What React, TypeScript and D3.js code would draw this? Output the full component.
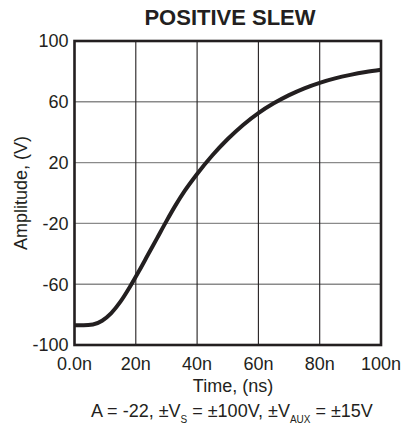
import { useEffect, useRef } from 'react';
import * as d3 from 'd3';

const timeNs = [0, 3, 6, 9, 12, 15, 18, 21, 24, 27, 30, 33, 36, 40, 45, 50, 55, 60, 65, 70, 75, 80, 85, 90, 95, 100];
const amplitudeV = [-87, -87, -86.5, -84, -79, -71.5, -62, -51.5, -40.5, -29.5, -18.5, -8, 1.5, 12.5, 24.8, 35.5, 44.8, 52.6, 59, 64.4, 68.9, 72.5, 75.4, 77.7, 79.6, 81.1];

const xTicks = [0, 20, 40, 60, 80, 100];
const xTickLabels = ['0.0n', '20n', '40n', '60n', '80n', '100n'];
const yTicks = [-100, -60, -20, 20, 60, 100];

const title = 'POSITIVE SLEW';
const xTitle = 'Time, (ns)';
const yTitle = 'Amplitude, (V)';

export default function App() {
  const svgRef = useRef<SVGSVGElement | null>(null);

  useEffect(() => {
    const svg = svgRef.current;
    if (!svg) return;

    const width = 401;
    const height = 427;
    const margin = { top: 41, right: 20, bottom: 82, left: 74.5 };
    const ink = '#231f20';
    const font = '"Liberation Sans", Arial, Helvetica, sans-serif';

    const x = d3.scaleLinear().domain([0, 100]).range([margin.left, width - margin.right]);
    const y = d3.scaleLinear().domain([-100, 100]).range([height - margin.bottom, margin.top]);

    const data = timeNs.map((t, i) => ({ t, v: amplitudeV[i] }));

    const root = d3.select(svg);
    root.attr('viewBox', `0 0 ${width} ${height}`);
    root.selectAll('*').remove();

    root.append('rect').attr('width', width).attr('height', height).attr('fill', '#ffffff');

    // grid
    root
      .append('g')
      .selectAll('line')
      .data(yTicks.slice(1, -1))
      .join('line')
      .attr('x1', x(0))
      .attr('x2', x(100))
      .attr('y1', (d) => y(d))
      .attr('y2', (d) => y(d))
      .attr('stroke', '#8a8a8a')
      .attr('stroke-width', 1.4);

    root
      .append('g')
      .selectAll('line')
      .data(xTicks.slice(1, -1))
      .join('line')
      .attr('x1', (d) => x(d))
      .attr('x2', (d) => x(d))
      .attr('y1', y(100))
      .attr('y2', y(-100))
      .attr('stroke', ink)
      .attr('stroke-width', 1.1);

    const line = d3
      .line<{ t: number; v: number }>()
      .x((d) => x(d.t))
      .y((d) => y(d.v))
      .curve(d3.curveMonotoneX);

    root
      .append('path')
      .datum(data)
      .attr('fill', 'none')
      .attr('stroke', ink)
      .attr('stroke-width', 4)
      .attr('stroke-linejoin', 'round')
      .attr('d', line as any);

    root
      .append('rect')
      .attr('x', x(0))
      .attr('y', y(100))
      .attr('width', x(100) - x(0))
      .attr('height', y(-100) - y(100))
      .attr('fill', 'none')
      .attr('stroke', ink)
      .attr('stroke-width', 2.6);

    // tick labels
    root
      .append('g')
      .selectAll('text')
      .data(yTicks)
      .join('text')
      .attr('x', x(0) - 6)
      .attr('y', (d) => y(d))
      .attr('dy', '0.36em')
      .attr('text-anchor', 'end')
      .attr('font-family', font)
      .attr('font-size', 18)
      .attr('fill', ink)
      .text((d) => `${d}`);

    root
      .append('g')
      .selectAll('text')
      .data(xTicks)
      .join('text')
      .attr('x', (d) => x(d))
      .attr('y', y(-100) + 25)
      .attr('text-anchor', 'middle')
      .attr('font-family', font)
      .attr('font-size', 18)
      .attr('fill', ink)
      .text((d, i) => xTickLabels[i]);

    root
      .append('text')
      .attr('x', 230)
      .attr('y', 25)
      .attr('text-anchor', 'middle')
      .attr('font-family', font)
      .attr('font-weight', 'bold')
      .attr('font-size', 22)
      .attr('fill', ink)
      .text(title);

    root
      .append('text')
      .attr('x', 233)
      .attr('y', 392)
      .attr('text-anchor', 'middle')
      .attr('font-family', font)
      .attr('font-size', 18)
      .attr('fill', ink)
      .text(xTitle);

    root
      .append('text')
      .attr('transform', `translate(27,${(y(100) + y(-100)) / 2}) rotate(-90)`)
      .attr('text-anchor', 'middle')
      .attr('font-family', font)
      .attr('font-size', 18)
      .attr('fill', ink)
      .text(yTitle);

    const note = root
      .append('text')
      .attr('x', 232)
      .attr('y', 417)
      .attr('text-anchor', 'middle')
      .attr('font-family', font)
      .attr('font-size', 18)
      .attr('fill', ink);
    note.append('tspan').text('A = -22, \u00b1V');
    note.append('tspan').attr('font-size', 10).attr('dy', 6).text('S');
    note.append('tspan').attr('dy', -6).text(' = \u00b1100V, \u00b1V');
    note.append('tspan').attr('font-size', 10).attr('dy', 6).text('AUX');
    note.append('tspan').attr('dy', -6).text(' = \u00b115V');
  }, []);

  return (
    <svg
      ref={svgRef}
      width={401}
      height={427}
      style={{ position: 'absolute', left: 0, top: 0, display: 'block' }}
    />
  );
}
